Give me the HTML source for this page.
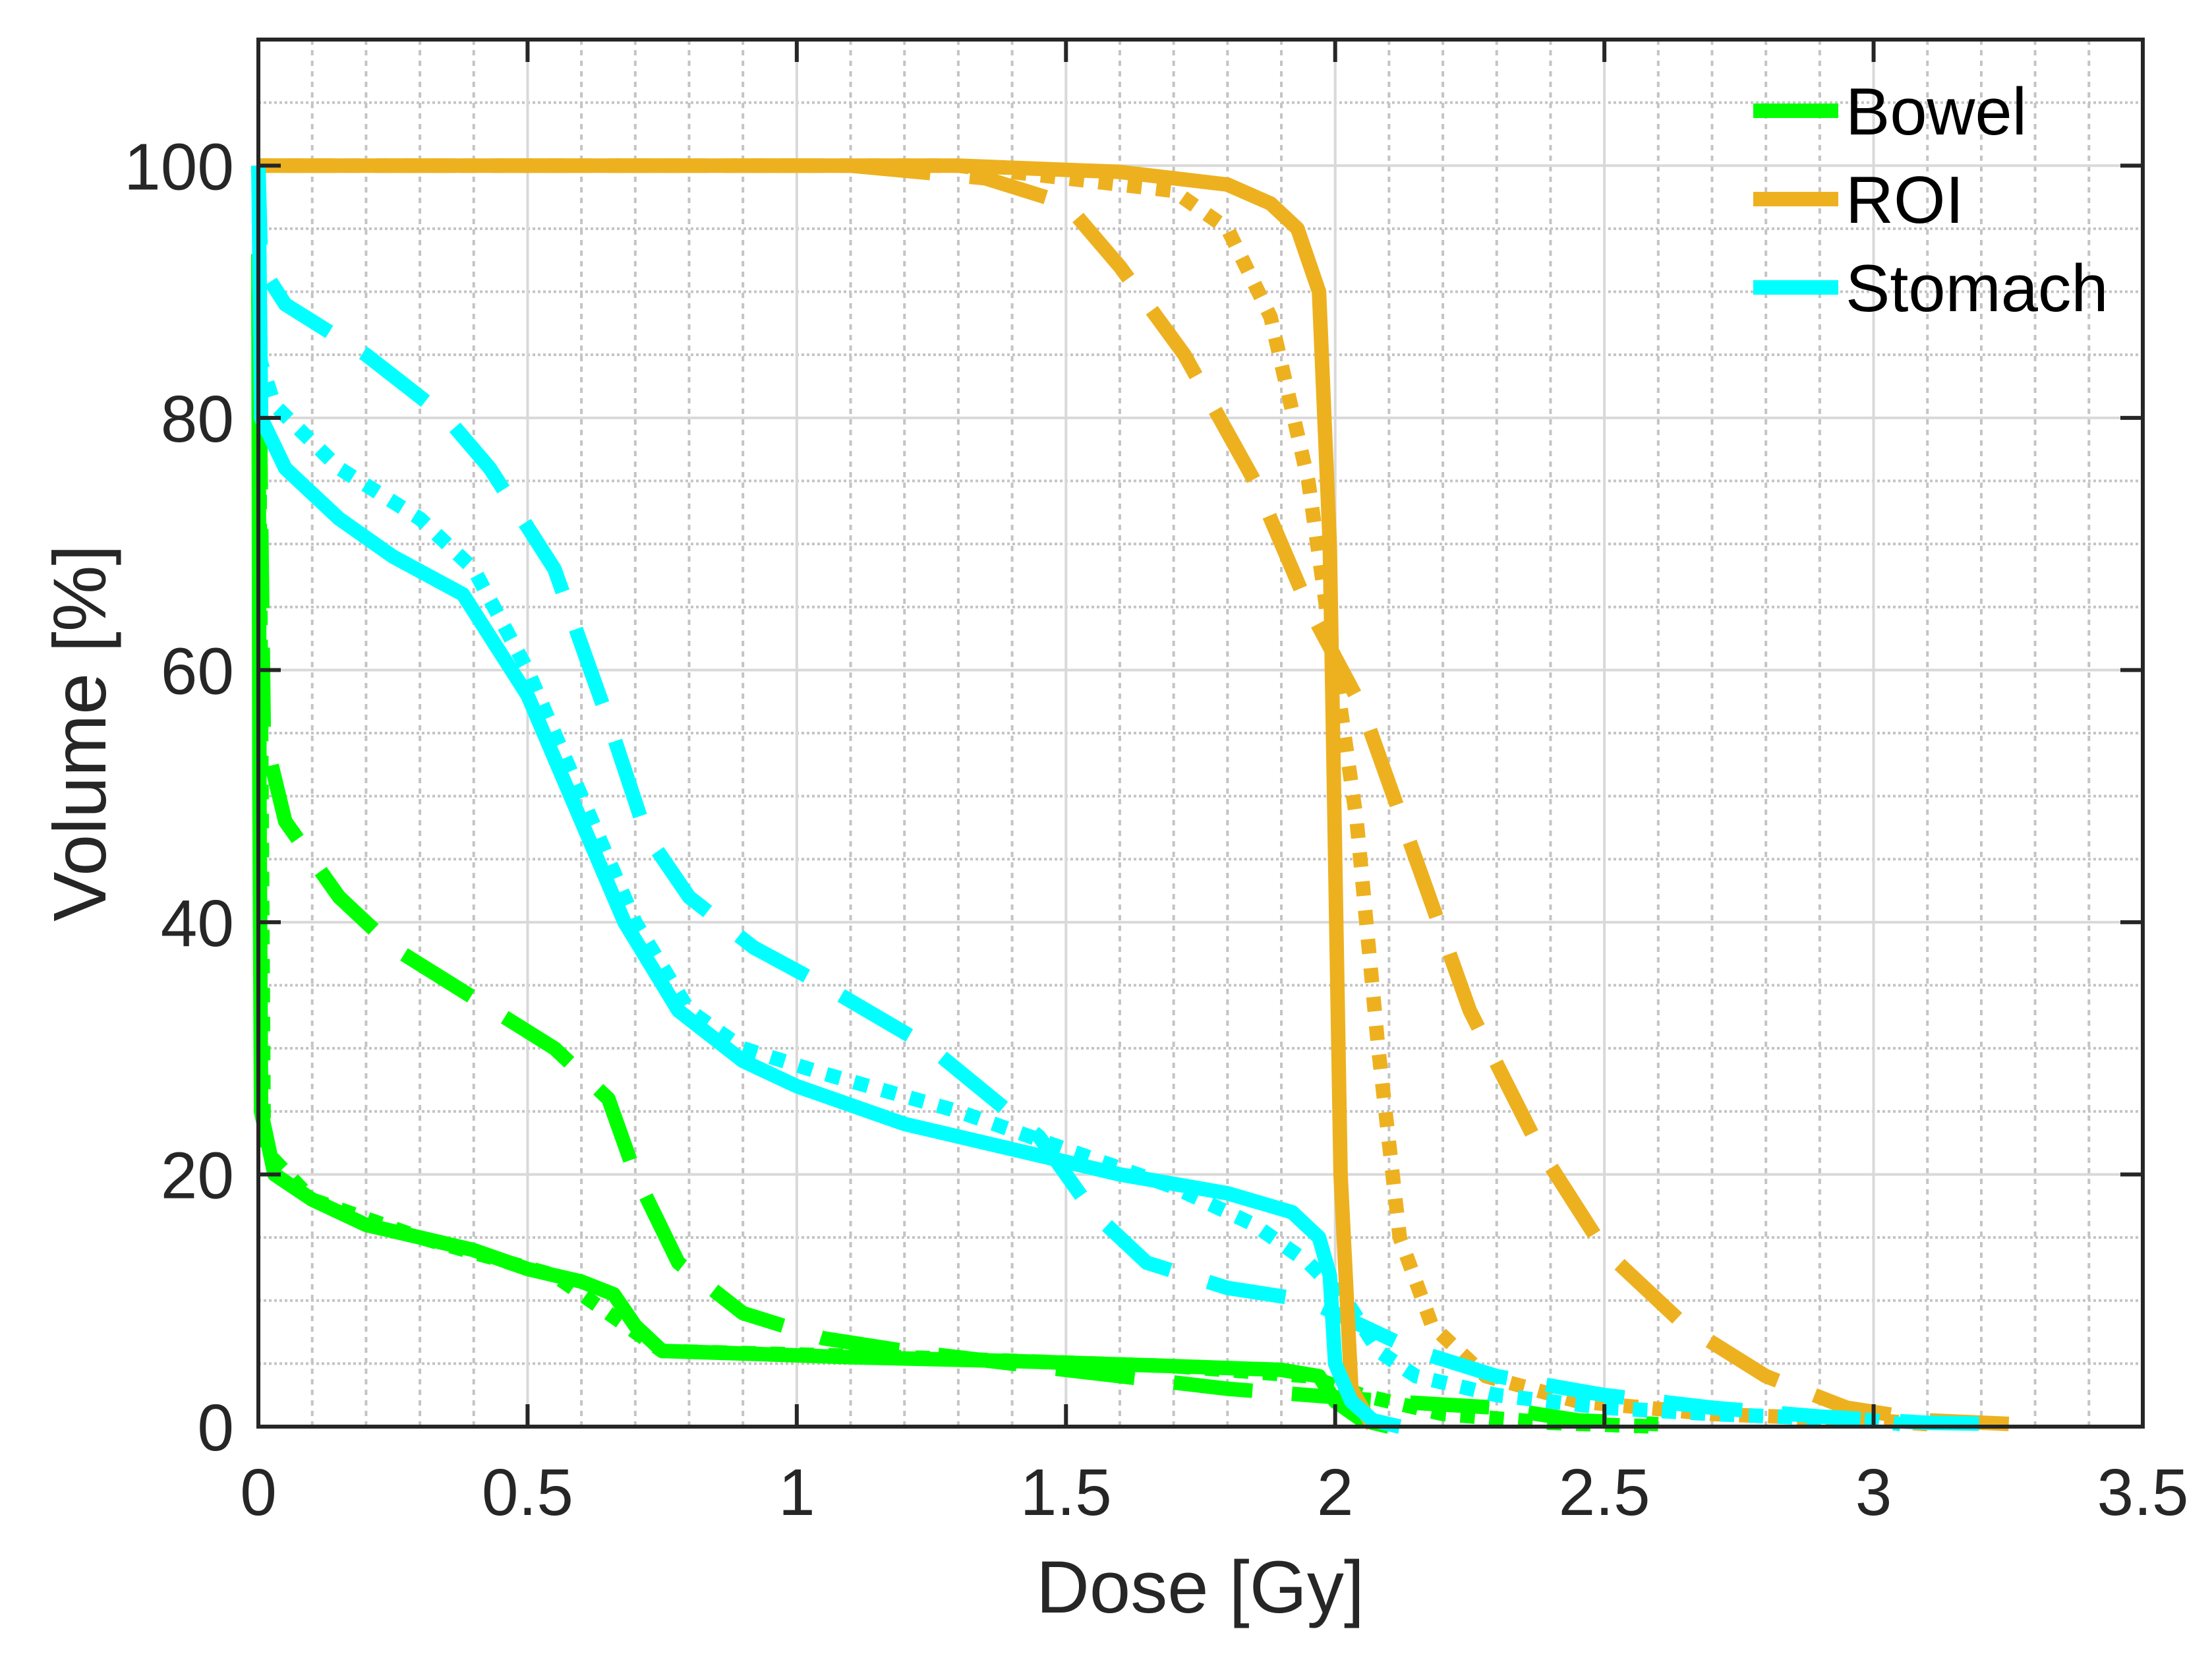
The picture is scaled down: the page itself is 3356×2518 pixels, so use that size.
<!DOCTYPE html>
<html><head><meta charset="utf-8"><style>
html,body{margin:0;padding:0;background:#fff}
svg{display:block;font-family:"Liberation Sans",Arial,sans-serif}
</style></head><body>
<svg id="chart" width="3356" height="2518" viewBox="0 0 3356 2518" xmlns="http://www.w3.org/2000/svg">
<rect x="0" y="0" width="3356" height="2518" fill="#fff"/>
<g id="grid"></g>
<g id="series"></g>
<g id="axes"></g>
<text x="1821" y="2446" font-size="112" text-anchor="middle" fill="#262626">Dose [Gy]</text>
<text transform="translate(160,1112) rotate(-90)" font-size="113" text-anchor="middle" fill="#262626">Volume [%]</text>
<g id="legend"></g>
</svg>
<script>
const xTicks=[0,0.5,1,1.5,2,2.5,3,3.5];
const xTickLabels=["0","0.5","1","1.5","2","2.5","3","3.5"];
const yTicks=[0,20,40,60,80,100];
const yTickLabels=["0","20","40","60","80","100"];
const legendNames=["Bowel","ROI","Stomach"];
const roiSolidX=[0,1.3,1.6,1.8,1.88,1.93,1.97,1.99,2.01,2.03,2.07];
const roiSolidY=[100,100,99.5,98.5,97,95,90,70,20,3,0];
const roiDotX=[0,1.3,1.5,1.7,1.8,1.88,1.95,2.0,2.04,2.08,2.12,2.18,2.28,2.45,2.7,3.0,3.1];
const roiDotY=[100,100,99,98,95,88,75,60,48,30,15,8,4,2,1,0.5,0.2];
const roiDashX=[0,1.1,1.35,1.5,1.6,1.72,1.85,1.95,2.05,2.15,2.25,2.38,2.5,2.65,2.8,2.95,3.1,3.26];
const roiDashY=[100,100,99,97,92,85,75,65,57,45,33,22,14,8,4,1.5,0.5,0.2];
const stoSolidX=[0,0.005,0.05,0.15,0.25,0.38,0.5,0.6,0.68,0.78,0.9,1.0,1.2,1.4,1.6,1.8,1.92,1.97,1.99,2.0,2.03,2.07,2.12];
const stoSolidY=[100,80,76,72,69,66,58,48,40,33,29,27,24,22,20,18.5,17,15,12,5,2,0.5,0];
const stoDotX=[0,0.03,0.15,0.3,0.4,0.5,0.6,0.7,0.8,0.9,1.05,1.3,1.5,1.7,1.85,1.95,2.02,2.08,2.15,2.3,2.5,2.7,3.0,3.05];
const stoDotY=[85,81,76,72,68,60,50,40,33,30,28,25,22,19,16,13,10,6,4,2.5,1.5,1,0.5,0.2];
const stoDashX=[0,0.005,0.05,0.2,0.35,0.43,0.55,0.65,0.72,0.8,0.92,1.05,1.25,1.45,1.55,1.65,1.8,1.95,2.05,2.15,2.3,2.5,2.7,2.9,3.1,3.26];
const stoDashY=[100,92,89,85,80,76,68,56,47,42,38,35,30,23,17,13,11,10,8,6,4,2.5,1.5,0.8,0.3,0.2];
const bowSolidX=[0,0.002,0.005,0.03,0.1,0.2,0.3,0.4,0.5,0.6,0.66,0.7,0.75,0.9,1.1,1.4,1.7,1.9,1.97,2.0,2.05,2.1];
const bowSolidY=[93,50,25,20,18,16,15,14,12.5,11.5,10.5,8,6,5.8,5.5,5.2,4.8,4.5,4,2,0.5,0];
const bowDotX=[0,0.01,0.1,0.3,0.55,0.75,1.2,1.7,1.95,2.05,2.2,2.4,2.6];
const bowDotY=[90,22,18,15,12,6,5.5,4.8,4,2.5,1,0.3,0];
const bowDashX=[0,0.01,0.05,0.15,0.25,0.4,0.55,0.65,0.7,0.78,0.9,1.05,1.2,1.4,1.6,1.8,1.95,2.1,2.3,2.45,2.6];
const bowDashY=[90,55,48,42,38,34,30,26,20,13,9,7,6,5,4,3,2.5,2,1.5,0.5,0.2];

const NS="http://www.w3.org/2000/svg";
const L=392,R=3251,T=60,B=2164,XMAX=3.5,YMAX=110;
const sx=d=>L+d/XMAX*(R-L);
const sy=v=>B-v/YMAX*(B-T);
function mk(tag,attrs,parent){const e=document.createElementNS(NS,tag);for(const k in attrs)e.setAttribute(k,attrs[k]);parent.appendChild(e);return e;}
const grid=document.getElementById('grid');
for(let i=1;i<35;i++){const d=i/10;if(i%5===0)continue;
 const g=mk('line',{x1:sx(d),x2:sx(d),y1:T,y2:B,stroke:'#c4c4c4','stroke-width':4,'stroke-dasharray':'8,8'},grid);
 
 }
for(let v=5;v<110;v+=5){if(v%20===0)continue;
 const g=mk('line',{x1:L,x2:R,y1:sy(v),y2:sy(v),stroke:'#c4c4c4','stroke-width':4,'stroke-dasharray':'4,4'},grid);
 
 }
xTicks.forEach(d=>{if(d===0||d===XMAX)return;
 const g=mk('line',{x1:sx(d),x2:sx(d),y1:T,y2:B,stroke:'#d9d9d9','stroke-width':4},grid);
 
 });
yTicks.forEach(v=>{if(v===0)return;
 const g=mk('line',{x1:L,x2:R,y1:sy(v),y2:sy(v),stroke:'#d9d9d9','stroke-width':4},grid);
 
 });

const ser=document.getElementById('series');
const GREEN='#00ff00',ORANGE='#edb120',CYAN='#00ffff';
const SOLID='',DOT='22,22',DASH='120,60';
const list=[
 [bowDashX,bowDashY,GREEN,DASH,'bowel-dashed'],
 [bowDotX,bowDotY,GREEN,DOT,'bowel-dotted'],
 [roiDashX,roiDashY,ORANGE,DASH,'roi-dashed'],
 [roiDotX,roiDotY,ORANGE,DOT,'roi-dotted'],
 [stoDashX,stoDashY,CYAN,DASH,'stomach-dashed'],
 [stoDotX,stoDotY,CYAN,DOT,'stomach-dotted'],
 [bowSolidX,bowSolidY,GREEN,SOLID,'bowel-solid'],
 [roiSolidX,roiSolidY,ORANGE,SOLID,'roi-solid'],
 [stoSolidX,stoSolidY,CYAN,SOLID,'stomach-solid']];
list.forEach(([xs,ys,c,da,n])=>{
 const pts=xs.map((x,i)=>sx(x).toFixed(1)+','+sy(ys[i]).toFixed(1)).join(' ');
 const p=mk('polyline',{points:pts,fill:'none',stroke:c,'stroke-width':22,'stroke-linejoin':'round'},ser);
 if(da)p.setAttribute('stroke-dasharray',da);
 
 });

const ax=document.getElementById('axes');
const box=mk('rect',{x:L,y:T,width:R-L,height:B-T,fill:'none',stroke:'#262626','stroke-width':6},ax);


xTicks.forEach((d,i)=>{
 mk('line',{x1:sx(d),x2:sx(d),y1:B,y2:B-34,stroke:'#262626','stroke-width':6},ax);
 mk('line',{x1:sx(d),x2:sx(d),y1:T,y2:T+34,stroke:'#262626','stroke-width':6},ax);
 const t=mk('text',{x:sx(d),y:2298,'font-size':100,'text-anchor':'middle',fill:'#262626'},ax);
 t.textContent=xTickLabels[i];
 
 });
yTicks.forEach((v,i)=>{
 mk('line',{x1:L,x2:L+34,y1:sy(v),y2:sy(v),stroke:'#262626','stroke-width':6},ax);
 mk('line',{x1:R,x2:R-34,y1:sy(v),y2:sy(v),stroke:'#262626','stroke-width':6},ax);
 const t=mk('text',{x:355,y:sy(v)+36,'font-size':100,'text-anchor':'end',fill:'#262626'},ax);
 t.textContent=yTickLabels[i];
 
 });

const lg=document.getElementById('legend');
const lc=[GREEN,ORANGE,CYAN];
legendNames.forEach((nm,i)=>{const y=168+i*134;
 const l=mk('line',{x1:2660,x2:2789,y1:y,y2:y,stroke:lc[i],'stroke-width':22},lg);
 
 
 const t=mk('text',{x:2800,y:y+36,'font-size':101,fill:'#000'},lg);
 t.textContent=nm;
 
 });
</script>
</body></html>
